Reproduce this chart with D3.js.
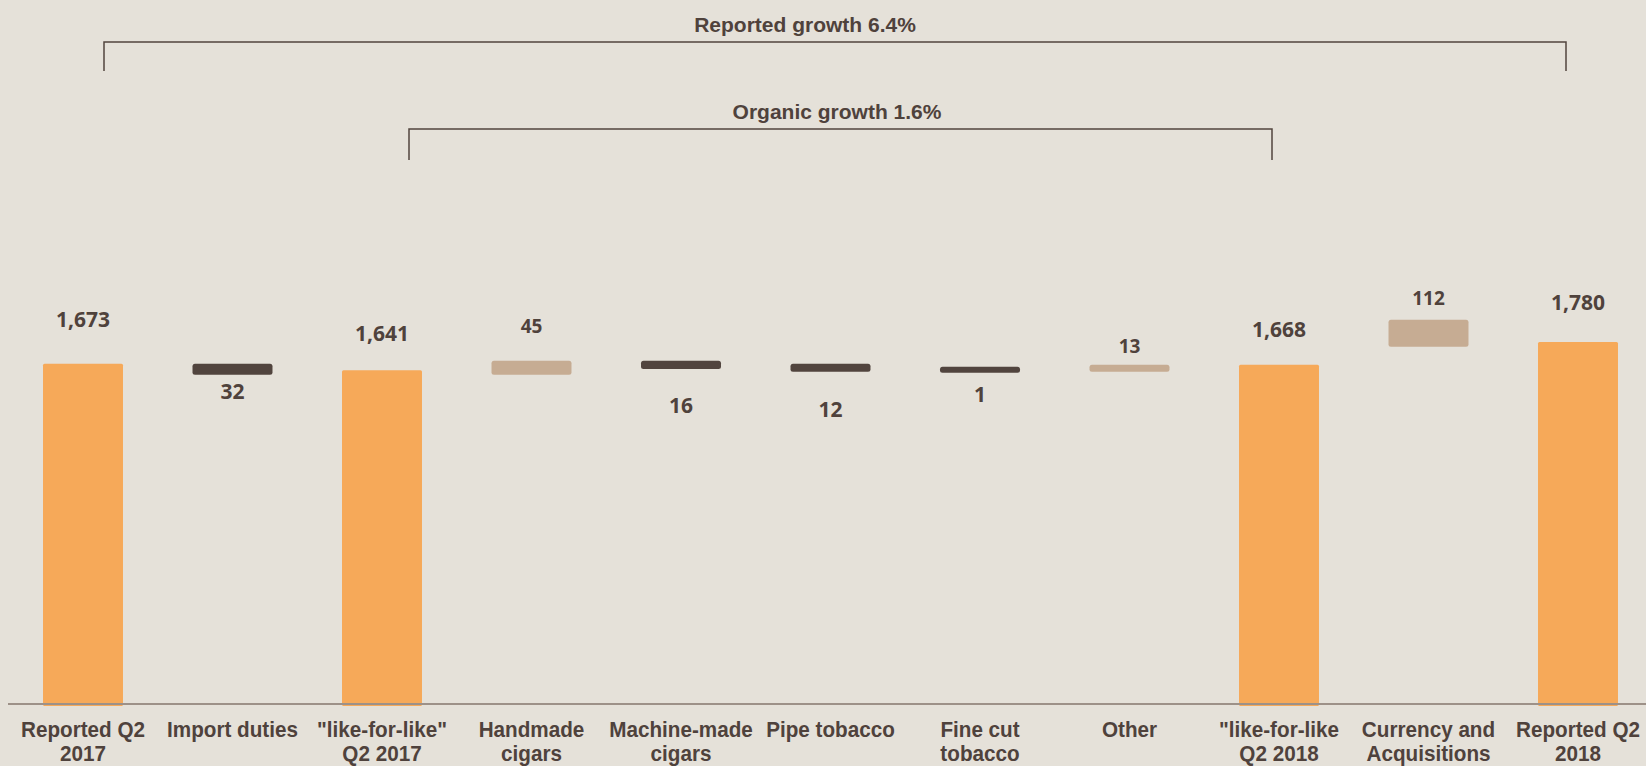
<!DOCTYPE html>
<html>
<head>
<meta charset="utf-8">
<script src="https://cdn.jsdelivr.net/npm/d3@7"></script>
<style>
  html, body { margin: 0; padding: 0; background: #E5E1D9; }
  svg { display: block; }
</style>
</head>
<body>
<div id="chart"></div>
<script>
// ---------------- DATA ----------------
const categories = [
  "Reported Q2 2017", "Import duties", "\"like-for-like\" Q2 2017", "Handmade cigars",
  "Machine-made cigars", "Pipe tobacco", "Fine cut tobacco", "Other",
  "\"like-for-like Q2 2018", "Currency and Acquisitions", "Reported Q2 2018"
];
const categoryLines = [
  ["Reported Q2", "2017"], ["Import duties"], ["\"like-for-like\"", "Q2 2017"], ["Handmade", "cigars"],
  ["Machine-made", "cigars"], ["Pipe tobacco"], ["Fine cut", "tobacco"], ["Other"],
  ["\"like-for-like", "Q2 2018"], ["Currency and", "Acquisitions"], ["Reported Q2", "2018"]
];
const kinds = ["total", "decrease", "total", "increase", "decrease", "decrease", "decrease", "increase", "total", "increase", "total"];
const valueLabels = ["1,673", "32", "1,641", "45", "16", "12", "1", "13", "1,668", "112", "1,780"];
// bar extents (data units)
const barHigh = [1673, 1673, 1641, 1688, 1688, 1673, 1658, 1668, 1668, 1890, 1780];
const barLow  = [0, 1619, 0, 1619, 1647, 1634, 1629, 1634, 0, 1757, 0];
const brackets = [
  { text: "Reported growth 6.4%", from: 0, to: 10 },
  { text: "Organic growth 1.6%", from: 2, to: 8 }
];

// ---------------- LAYOUT ----------------
const W = 1646, H = 766;
const baseY = 704;
const labelOffset = [37, 24, 29, 28, 44, 45, 29, 12, 28, 15, 32];
const labelSize = [21, 21, 21, 19, 21, 21, 21, 19, 21, 19, 21];
const bracketLayout = [
  { y: 42, tick: 29, dx0: 21, dx1: -12, textX: 805 },
  { y: 129, tick: 31, dx0: 27, dx1: -7, textX: 837 }
];
const colors = { total: "#F6A959", increase: "#C6AC93", decrease: "#51443E" };
const textColor = "#4F423C";

const svg = d3.select("#chart").append("svg").attr("width", W).attr("height", H);
svg.append("rect").attr("width", W).attr("height", H).attr("fill", "#E5E1D9");

const x = d3.scaleBand().domain(categories).range([8.25, 1652.75])
  .paddingInner(0.465).paddingOuter(0.2325);
const y = d3.scaleLinear().domain([0, 1780]).range([baseY, 342]);

const data = categories.map((c, i) => ({
  c, i, kind: kinds[i], hi: barHigh[i], lo: barLow[i], label: valueLabels[i], lines: categoryLines[i]
}));

// bars
svg.append("g").selectAll("rect").data(data).join("rect")
  .attr("x", d => x(d.c))
  .attr("width", x.bandwidth())
  .attr("y", d => y(d.hi))
  .attr("height", d => y(d.lo) - y(d.hi) + (d.kind === "total" ? 2 : 0))
  .attr("rx", d => d.kind === "total" ? 1.5 : 2.5)
  .attr("fill", d => colors[d.kind]);

// axis line
const xAxis = d3.axisBottom(x).tickSize(0).tickFormat("");
const axisG = svg.append("g").attr("transform", `translate(0,${baseY})`).call(xAxis);
axisG.select(".domain").attr("stroke", "#9D9188").attr("stroke-width", 2)
  .attr("d", `M8,0H${W}`);

// category labels
const catG = svg.append("g").selectAll("g").data(data).join("g")
  .attr("transform", d => `translate(${x(d.c) + x.bandwidth() / 2},0)`);
catG.each(function(d) {
  const g = d3.select(this).append("g").attr("transform", "scale(0.94,1)");
  d.lines.forEach((ln, k) => {
    g.append("text")
      .attr("x", 0).attr("y", 737 + k * 24)
      .attr("text-anchor", "middle")
      .attr("font-family", "'Liberation Sans', Arial, sans-serif")
      .attr("font-weight", "bold")
      .attr("font-size", 22)
      .attr("fill", textColor)
      .text(ln);
  });
});

// value labels
svg.append("g").selectAll("text").data(data).join("text")
  .attr("x", d => x(d.c) + x.bandwidth() / 2)
  .attr("y", d => d.kind === "decrease" ? y(d.lo) + labelOffset[d.i] : y(d.hi) - labelOffset[d.i])
  .attr("text-anchor", "middle")
  .attr("font-family", "'Open Sans', sans-serif")
  .attr("font-weight", 700)
  .attr("font-size", d => labelSize[d.i])
  .attr("fill", textColor)
  .text(d => d.label);

// brackets
brackets.forEach((b, k) => {
  const L = bracketLayout[k];
  const x0 = x(categories[b.from]) + x.bandwidth() / 2 + L.dx0;
  const x1 = x(categories[b.to]) + x.bandwidth() / 2 + L.dx1;
  svg.append("path")
    .attr("d", `M${x0},${L.y + L.tick}V${L.y}H${x1}V${L.y + L.tick}`)
    .attr("fill", "none").attr("stroke", "#51443E").attr("stroke-width", 1.5);
  svg.append("text")
    .attr("x", L.textX).attr("y", L.y - 10)
    .attr("text-anchor", "middle")
    .attr("font-family", "'Liberation Sans', Arial, sans-serif")
    .attr("font-weight", "bold")
    .attr("font-size", 21)
    .attr("fill", textColor)
    .text(b.text);
});
</script>
</body>
</html>
